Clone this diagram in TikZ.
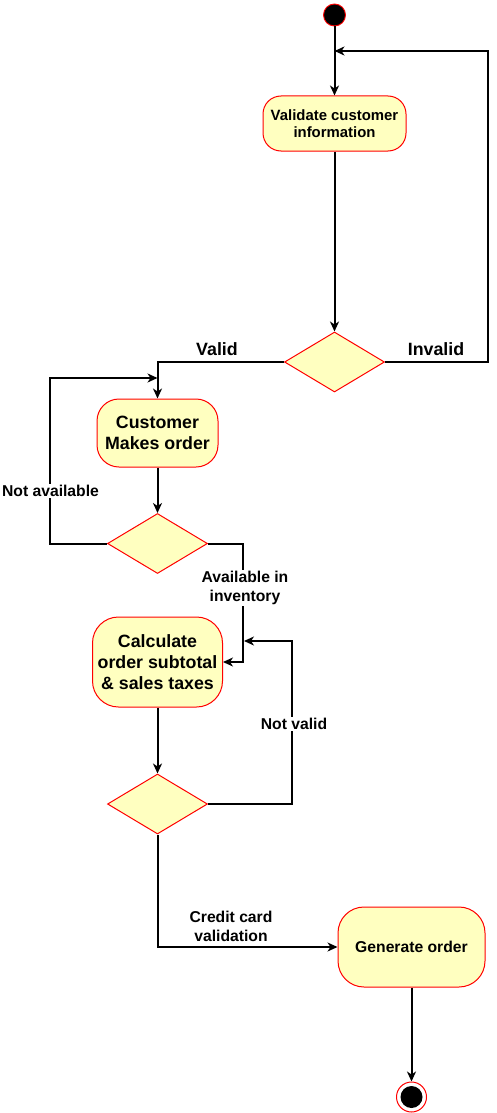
\documentclass[tikz,border=0pt]{standalone}
\usepackage{fontspec}
\setmainfont{Liberation Sans}
\usetikzlibrary{shapes.geometric,arrows.meta}
\definecolor{actfill}{HTML}{FFFFC0}
\definecolor{actline}{HTML}{FF0000}
\tikzset{
  act/.style={draw=actline, fill=actfill, line width=1pt, align=center, inner sep=0pt, font=\bfseries},
  dec/.style={draw=actline, fill=actfill, line width=1pt, shape=diamond, minimum width=100pt, minimum height=60pt, inner sep=0pt},
  conn/.style={line width=2pt, draw=black},
  arr/.style={conn, -{Stealth[length=10pt,width=9pt,inset=3pt]}},
  lbl/.style={font=\bfseries\fontsize{15.7}{19}\selectfont, align=center, inner sep=1pt},
  biglbl/.style={font=\bfseries\fontsize{17.8}{21}\selectfont, align=center, inner sep=1pt},
}
\begin{document}
\begin{tikzpicture}[x=1pt,y=-1pt]
\useasboundingbox (0,0) rectangle (496,1113);
% nodes
\node[circle, fill=black, draw=actline, line width=0.9pt, minimum size=22pt, inner sep=0pt] (start) at (334.5,15) {};
\node[act, rounded corners=18pt, minimum width=143pt, minimum height=55pt, font=\bfseries\fontsize{14.9}{17}\selectfont] (v1) at (334.5,123.5) {Validate customer\\information};
\node[dec] (d1) at (334.5,362) {};
\node[act, rounded corners=22pt, minimum width=121pt, minimum height=68pt, font=\bfseries\fontsize{17.8}{21}\selectfont] (c1) at (157.5,433) {Customer\\Makes order};
\node[dec] (d2) at (157.5,543.5) {};
\node[act, rounded corners=26pt, minimum width=130pt, minimum height=90pt, font=\bfseries\fontsize{17.8}{21}\selectfont] (c2) at (157.5,662) {Calculate\\order subtotal\\\& sales taxes};
\node[dec] (d3) at (157.5,804) {};
\node[act, rounded corners=26pt, minimum width=147pt, minimum height=80pt, font=\bfseries\fontsize{15.7}{19}\selectfont] (g) at (411.5,947) {Generate order};
\node[circle, fill=white, draw=actline, line width=1pt, minimum size=30pt, inner sep=0pt] (end) at (411.5,1097) {};
\node[circle, fill=black, minimum size=22pt, inner sep=0pt] (endin) at (411.5,1097) {};
% helper coordinates
\coordinate (r1) at (488,51);
\coordinate (j1) at (334.5,51);
\coordinate (l2) at (50,378);
\coordinate (j2) at (157.5,378);
\coordinate (k2) at (243,662);
\coordinate (r3) at (292,641);
\coordinate (j3) at (244,641);
% connectors
\draw[arr] (start) -- (v1);
\draw[arr] (v1) -- (d1);
\draw[arr] (d1.east) -| (r1) -- (j1);
\draw[arr] (d1.west) -| (c1.north);
\draw[arr] (c1) -- (d2);
\draw[arr] (d2.west) -| (l2) -- (j2);
\draw[arr] (d2.east) -| (k2) -- (c2.east);
\draw[arr] (c2) -- (d3);
\draw[arr] (d3.east) -| (r3) -- (j3);
\draw[arr] (d3.south) |- (g.west);
\draw[arr] (g) -- (end);
% labels
\node[biglbl] (lvalid) at (217,349) {Valid};
\node[biglbl] (linvalid) at (436,349) {Invalid};
\node[lbl, fill=white] (lna) at (50.5,491) {Not available};
\node[lbl, fill=white] (lai) at (245,588) {Available in\\inventory};
\node[lbl, fill=white] (lnv) at (294,724) {Not valid};
\node[lbl] (lcc) at (231,926) {Credit card\\validation};
\end{tikzpicture}
\end{document}
